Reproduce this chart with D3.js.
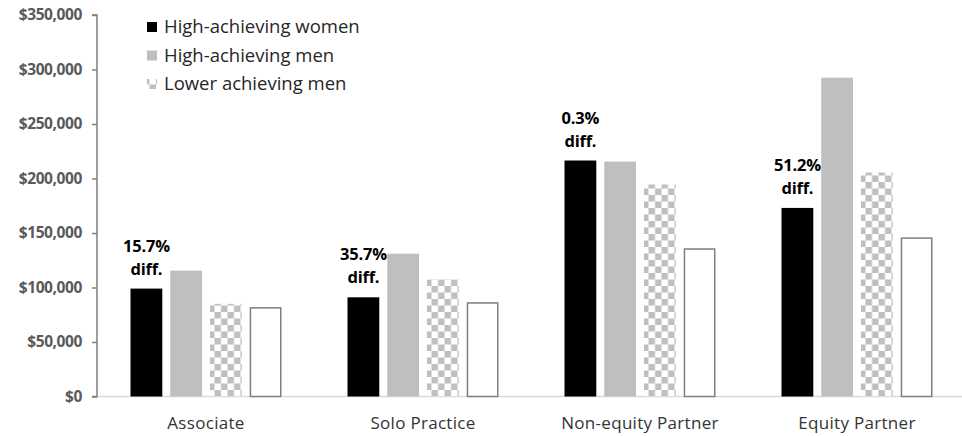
<!DOCTYPE html>
<html><head><meta charset="utf-8">
<script src="https://cdn.jsdelivr.net/npm/d3@7/dist/d3.min.js"></script>
<style>
body{margin:0;background:#fff;}
svg{display:block;}
</style></head>
<body>
<svg id="chart" width="962" height="436"></svg>
<script>
const categories = ["Associate", "Solo Practice", "Non-equity Partner", "Equity Partner"];
const seriesNames = ["High-achieving women", "High-achieving men", "Lower achieving men", "Other"];
const legendNames = ["High-achieving women", "High-achieving men", "Lower achieving men"];
const womenHigh = [99000, 91000, 216500, 173000];
const menHigh = [115500, 131000, 215500, 292500];
const menLower = [85000, 107500, 194500, 205500];
const other = [82000, 86500, 136000, 146000];
const diffLabels = ["15.7%", "35.7%", "0.3%", "51.2%"];
const yTicks = [0, 50000, 100000, 150000, 200000, 250000, 300000, 350000];

const values = [womenHigh, menHigh, menLower, other];
const svg = d3.select("#chart");

const defs = svg.append("defs");
const pat = defs.append("pattern").attr("id","checker").attr("patternUnits","userSpaceOnUse")
  .attr("width",13).attr("height",13);
pat.append("rect").attr("width",13).attr("height",13).attr("fill","#fff");
pat.append("rect").attr("x",0).attr("y",0).attr("width",6.5).attr("height",6.5).attr("fill","#bfbfbf");
pat.append("rect").attr("x",6.5).attr("y",6.5).attr("width",6.5).attr("height",6.5).attr("fill","#bfbfbf");

const x0 = d3.scaleBand().domain(categories).range([97.5, 965.5]).padding(0);
const x1 = d3.scaleBand().domain(seriesNames).range([33, 184]).paddingInner(0.2).paddingOuter(0);
const y = d3.scaleLinear().domain([0, 350000]).range([396.5, 15]);

const fills = ["#000000", "#bfbfbf", "url(#checker)", "#ffffff"];

// x baseline
svg.append("line").attr("x1", 97).attr("x2", 962).attr("y1", y(0)).attr("y2", y(0))
  .attr("stroke", "#d9d9d9").attr("stroke-width", 1.5);

// bars
const groups = svg.append("g").selectAll("g").data(categories).join("g")
  .attr("transform", d => `translate(${x0(d)},0)`);
groups.each(function(cat, ci){
  const g = d3.select(this);
  seriesNames.forEach((s, si) => {
    const v = values[si][ci];
    const isOutline = si === 3;
    g.append("rect")
      .attr("x", x1(s) + (isOutline ? 0.75 : 0))
      .attr("y", y(v) + (isOutline ? 0.75 : 0))
      .attr("width", x1.bandwidth() - (isOutline ? 1.5 : 0))
      .attr("height", y(0) - y(v) - (isOutline ? 0.75 : 0))
      .attr("fill", fills[si])
      .attr("stroke", isOutline ? "#7f7f7f" : "none")
      .attr("stroke-width", isOutline ? 1.5 : 0);
  });
  // annotation
  const cx = x1(seriesNames[0]) + x1.bandwidth()/2;
  const top = y(womenHigh[ci]);
  const t = g.append("text").attr("text-anchor","middle")
    .attr("font-family","'Open Sans', sans-serif").attr("font-weight","bold")
    .attr("font-size", 16.5).attr("fill","#000").attr("letter-spacing","-0.2");
  t.append("tspan").attr("x", cx).attr("y", top - 37).text(diffLabels[ci]);
  t.append("tspan").attr("x", cx).attr("y", top - 14).text("diff.");
});

// y axis
const yAxis = d3.axisLeft(y).tickValues(yTicks).tickSize(5).tickPadding(10)
  .tickFormat(d => "$" + d3.format(",")(d));
const ya = svg.append("g").attr("transform", "translate(97,0)").call(yAxis);
ya.select(".domain").attr("stroke", "#7f7f7f").attr("stroke-width", 1.5)
  .attr("d", `M-5,${y(350000)}H0V${y(0)}H-5`);
ya.selectAll(".tick line").attr("stroke", "#7f7f7f").attr("stroke-width", 1.5);
ya.selectAll(".tick text").attr("font-family","'Open Sans', sans-serif").attr("font-weight","bold")
  .attr("font-size", 15.5).attr("fill","#595959").attr("letter-spacing","-0.4");

// x axis labels
const xa = svg.append("g").attr("transform", `translate(0,${y(0)})`)
  .call(d3.axisBottom(x0).tickSize(0).tickPadding(20));
xa.select(".domain").remove();
xa.selectAll(".tick")
  .attr("transform", d => `translate(${x0(d) + 33 + 151/2},0)`);
xa.selectAll(".tick text").attr("font-family","'Open Sans', sans-serif")
  .attr("font-size", 17).attr("fill","#333333").attr("letter-spacing","0.3");

// legend
const lg = svg.append("g");
legendNames.forEach((n, i) => {
  const ly = 27 + i * 28.5;
  lg.append("rect").attr("x", 147).attr("y", ly - 5).attr("width", 10).attr("height", 10)
    .attr("fill", fills[i]);
  lg.append("text").attr("x", 164).attr("y", ly).attr("dy", "0.35em")
    .attr("font-family","'Open Sans', sans-serif").attr("font-size", 18.5).attr("fill","#262626")
    .text(n);
});
</script>
</body></html>
